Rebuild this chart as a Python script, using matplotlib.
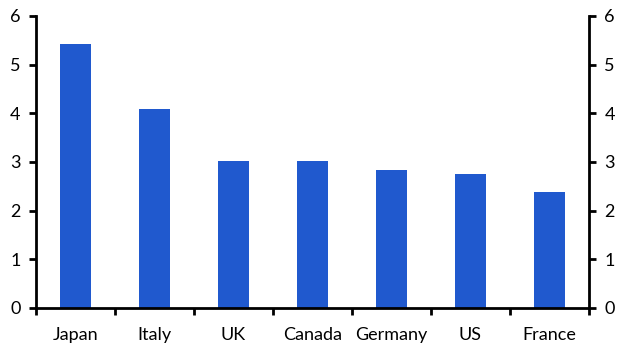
import numpy as np
import matplotlib.pyplot as plt

countries = ["Japan", "Italy", "UK", "Canada", "Germany", "US", "France"]
values = [5.42, 4.09, 3.02, 3.02, 2.84, 2.75, 2.38]
yticks = [0, 1, 2, 3, 4, 5, 6]

plt.rcParams['font.family'] = ['Lato', 'DejaVu Sans']

fig = plt.figure(figsize=(6.27, 3.53), dpi=100)
ax = fig.add_axes([36 / 627, 1 - 308 / 353, 553 / 627, 292 / 353])

x = np.arange(len(countries))
ax.bar(x, values, width=0.4, color="#2059CE", zorder=2)

ax.set_xlim(-0.5, len(countries) - 0.5)
ax.set_ylim(0, 6)
ax.set_yticks(yticks)

# category labels centred, tick marks at the boundaries
ax.set_xticks(x)
ax.set_xticklabels(countries, fontsize=13)
ax.set_xticks(np.arange(-0.5, len(countries)), minor=True)
ax.tick_params(axis='x', which='major', length=0, pad=14)
ax.tick_params(axis='x', which='minor', length=5, width=2, direction='out')

ax.tick_params(axis='y', which='major', length=5, width=2, direction='out',
               labelsize=13, left=True, right=True, labelleft=True, labelright=True, pad=6)

ax.spines['top'].set_visible(False)
for s in ['left', 'right', 'bottom']:
    ax.spines[s].set_linewidth(2)

fig.savefig("out.png", dpi=100)
